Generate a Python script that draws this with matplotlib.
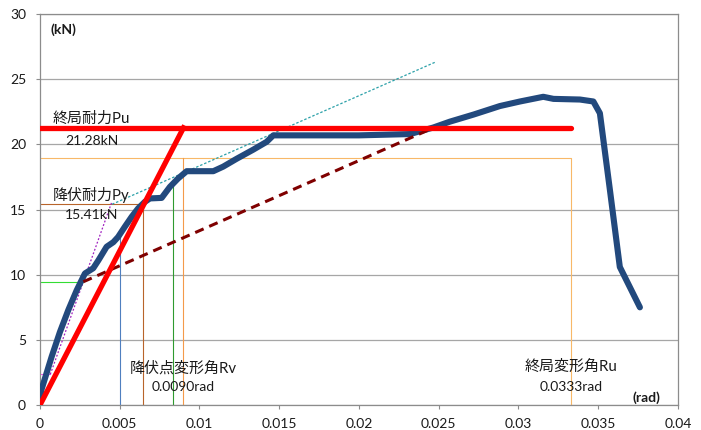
import matplotlib
matplotlib.use("Agg")
import matplotlib.pyplot as plt
import matplotlib.ticker as mticker

plt.rcParams["font.family"] = ["Lato", "Noto Sans CJK JP"]

# ---------------------------------------------------------------------------
# Load - drift envelope (rad, kN)
# ---------------------------------------------------------------------------
drift = [0.0, 0.0001, 0.00073, 0.00125, 0.00178, 0.0023, 0.00282, 0.00334,
         0.00366, 0.00418, 0.0046, 0.0049, 0.00533, 0.00575, 0.00616, 0.00658,
         0.0069, 0.00763, 0.00815, 0.00867, 0.0092, 0.01087, 0.01149, 0.01233,
         0.01337, 0.01421, 0.01463, 0.0175, 0.0200, 0.0232, 0.02466, 0.0257,
         0.0272, 0.02884, 0.0301, 0.03156, 0.0322, 0.03386, 0.0347, 0.03511,
         0.03574, 0.03636, 0.03762]
load = [0.3, 1.2, 3.7, 5.6, 7.3, 8.8, 10.1, 10.5,
        11.1, 12.15, 12.5, 12.9, 13.7, 14.45, 15.1, 15.6,
        15.86, 15.9, 16.75, 17.4, 17.95, 17.95, 18.3, 18.9,
        19.6, 20.2, 20.7, 20.7, 20.7, 20.8, 21.3, 21.75,
        22.3, 22.95, 23.3, 23.66, 23.5, 23.45, 23.3, 22.4,
        16.5, 10.6, 7.5]

# Evaluation values
p_max = 23.66
p_u = 21.28           # ultimate strength
p_y = 15.41           # yield strength
r_v = 0.0090          # yield-point drift of the bilinear model
r_u = 0.0333          # ultimate drift
r_y = 0.00648         # drift where the envelope reaches Py
r_200 = 0.005         # 1/200 rad
p_200 = 13.1
r_120 = 0.00836       # 1/120 rad
p_120 = 17.0

# Drift at 0.1Pmax, 0.4Pmax, 0.9Pmax on the envelope
r_01, r_04, r_09 = 0.00065, 0.00272, 0.0247
# Line I / Line III intersection and end of Line III
r_cross = 0.00452
r_line3_end = 0.0248

x_ticks = [0, 0.005, 0.01, 0.015, 0.02, 0.025, 0.03, 0.035, 0.04]
x_labels = ["0", "0.005", "0.01", "0.015", "0.02", "0.025", "0.03", "0.035", "0.04"]
y_ticks = [0, 5, 10, 15, 20, 25, 30]

_GRID = "#a6a6a6"
_SPINE = "#8c8c8c"
_TEXT = "#1a1a1a"
_JP_SIZE = 10.8

fig = plt.figure(figsize=(7.01, 4.30), dpi=100)
ax = fig.add_axes([0.057, 0.058, 0.91, 0.909])

# helper lines for the 0.1 / 0.4 / 0.8 Pmax levels etc.
thin = dict(lw=0.8, zorder=2)
ax.plot([0, r_01], [0.1 * p_max] * 2, color="#ee55ee", **thin)
ax.plot([0, r_04], [0.4 * p_max] * 2, color="#33dd33", **thin)
ax.plot([0, r_u, r_u], [0.8 * p_max, 0.8 * p_max, 0], color="#f8b868", **thin)
ax.plot([r_v, r_v], [0, 0.8 * p_max], color="#f49a4a", **thin)
ax.plot([0, r_y, r_y], [p_y, p_y, 0], color="#b8642a", **thin)
ax.plot([r_200, r_200], [0, p_200], color="#4f7fbf", **thin)
ax.plot([r_120, r_120], [0, p_120], color="#2f9a2f", **thin)

# Line I (0.1-0.4Pmax) and Line III (parallel to Line II)
slope1 = (0.4 * p_max - 0.1 * p_max) / (r_04 - r_01)
ax.plot([r_01, r_cross], [0.1 * p_max, 0.1 * p_max + slope1 * (r_cross - r_01)],
        color="#a020c0", lw=0.9, ls=(0, (1.5, 1.5)), zorder=2)
slope2 = (0.9 * p_max - 0.4 * p_max) / (r_09 - r_04)
ax.plot([r_cross, r_line3_end], [p_y, p_y + slope2 * (r_line3_end - r_cross)],
        color="#2aa0a8", lw=0.9, ls=(0, (2, 1.5)), zorder=2)

# envelope curve
ax.plot(drift, load, color="#22497d", lw=4.4, solid_capstyle="round",
        solid_joinstyle="round", zorder=3)

# Line II (0.4-0.9Pmax)
ax.plot([r_04, r_09], [0.4 * p_max, 0.9 * p_max], color="#7f0000", lw=2.2,
        ls=(0, (3, 2)), zorder=4)

# equivalent bilinear model
ax.plot([0, r_v], [0, p_u], color="#ff0000", lw=3.8, zorder=5)
ax.plot([0, r_u], [p_u, p_u], color="#ff0000", lw=3.8, solid_capstyle="round",
        zorder=5)

# annotations
ax.text(0.00069, 28.8, "(kN)", fontsize=10, fontweight="bold", color=_TEXT,
        va="center", ha="left")
ax.text(0.038, 0.6, "(rad)", fontsize=10, fontweight="bold", color=_TEXT,
        va="center", ha="center")
ax.text(0.00079, 22.0, "終局耐力Pu", fontsize=_JP_SIZE, color=_TEXT, va="center")
ax.text(0.00157, 20.3, f"{p_u:.2f}kN", fontsize=10, color=_TEXT, va="center")
ax.text(0.00082, 16.1, "降伏耐力Py", fontsize=_JP_SIZE, color=_TEXT, va="center")
ax.text(0.00157, 14.6, f"{p_y:.2f}kN", fontsize=10, color=_TEXT, va="center")
ax.text(r_v, 2.85, "降伏点変形角Rv", fontsize=_JP_SIZE, color=_TEXT, va="center",
        ha="center")
ax.text(r_v, 1.4, f"{r_v:.4f}rad", fontsize=10, color=_TEXT, va="center",
        ha="center")
ax.text(r_u, 2.9, "終局変形角Ru", fontsize=_JP_SIZE, color=_TEXT, va="center",
        ha="center")
ax.text(r_u, 1.4, f"{r_u:.4f}rad", fontsize=10, color=_TEXT, va="center",
        ha="center")

ax.set_xlim(0, 0.04)
ax.set_ylim(0, 30)
ax.xaxis.set_major_locator(mticker.FixedLocator(x_ticks))
ax.xaxis.set_major_formatter(mticker.FixedFormatter(x_labels))
ax.set_yticks(y_ticks)
ax.grid(axis="y", color=_GRID, lw=0.9, zorder=1)
ax.set_axisbelow(True)
for side in ["left", "right", "bottom", "top"]:
    ax.spines[side].set_color(_SPINE)
    ax.spines[side].set_linewidth(0.9)
ax.tick_params(axis="both", direction="out", length=3, width=0.8,
               color=_SPINE, labelsize=10, labelcolor=_TEXT)
ax.tick_params(axis="y", pad=7)
ax.tick_params(axis="x", pad=6)

fig.savefig("out.png", dpi=100)
